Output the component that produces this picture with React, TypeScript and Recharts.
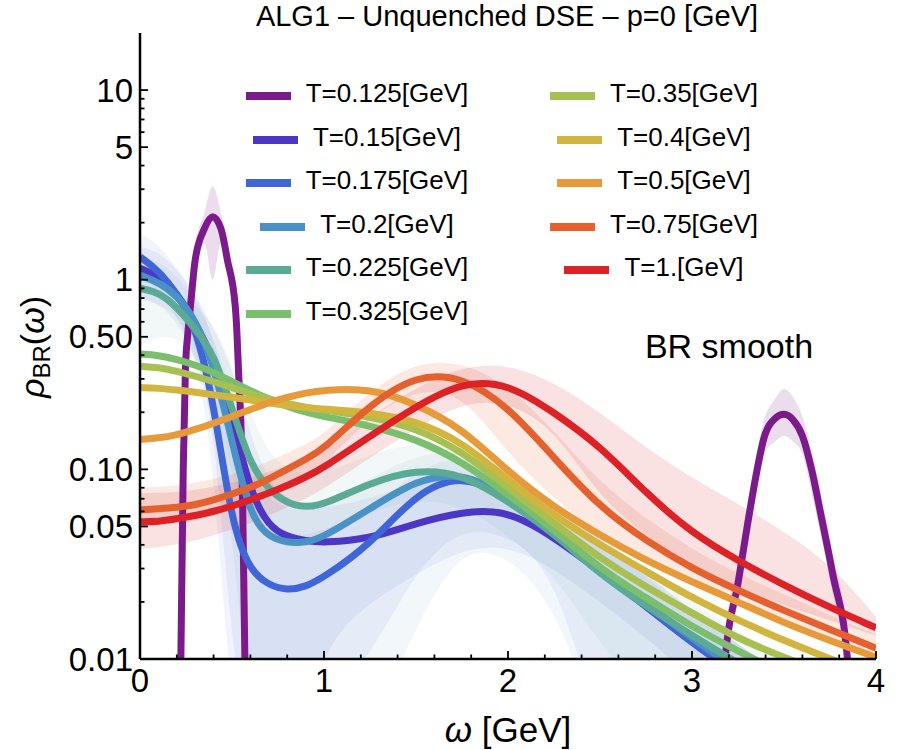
import React from 'react';
import { ComposedChart, Line, Area, XAxis, YAxis } from 'recharts';

const FONT = '"Liberation Sans", Arial, Helvetica, sans-serif';

// omega grid [GeV] shared by the smooth curves
const omega = [0, 0.1, 0.2, 0.3, 0.4, 0.5, 0.6, 0.7, 0.8, 0.9, 1, 1.25, 1.5, 1.75, 2, 2.25, 2.5, 2.75, 3, 3.25, 3.5, 3.75, 4];

// rho_BR(omega) per temperature
const rhoT150 = [1.15, 1.05, 0.85, 0.6, 0.38, 0.19, 0.075, 0.05, 0.044, 0.042, 0.041, 0.043, 0.052, 0.06, 0.061, 0.044, 0.029, 0.019, 0.0122, 0.0082, 0.0058, 0.0042, 0.003];
const rhoT175 = [1.32, 1.12, 0.85, 0.58, 0.23, 0.05, 0.029, 0.0245, 0.023, 0.024, 0.027, 0.04, 0.075, 0.095, 0.072, 0.048, 0.029, 0.019, 0.0122, 0.0082, 0.0058, 0.0042, 0.003];
const rhoT200 = [1.06, 0.97, 0.83, 0.62, 0.36, 0.14, 0.056, 0.044, 0.041, 0.041, 0.044, 0.062, 0.088, 0.097, 0.073, 0.048, 0.03, 0.0198, 0.0128, 0.0088, 0.0062, 0.0044, 0.0032];
const rhoT225 = [0.9, 0.86, 0.72, 0.55, 0.41, 0.21, 0.105, 0.078, 0.066, 0.063, 0.065, 0.085, 0.1, 0.095, 0.068, 0.046, 0.028, 0.019, 0.0133, 0.0095, 0.0068, 0.0048, 0.0034];
const rhoT325 = [0.405, 0.4, 0.38, 0.355, 0.325, 0.29, 0.26, 0.235, 0.215, 0.2, 0.19, 0.17, 0.145, 0.11, 0.074, 0.048, 0.03, 0.021, 0.0148, 0.011, 0.0083, 0.0063, 0.0049];
const rhoT350 = [0.35, 0.345, 0.33, 0.31, 0.29, 0.27, 0.25, 0.235, 0.222, 0.212, 0.205, 0.19, 0.165, 0.125, 0.08, 0.052, 0.034, 0.024, 0.0175, 0.0128, 0.0102, 0.0082, 0.0063];
const rhoT400 = [0.27, 0.268, 0.262, 0.255, 0.247, 0.24, 0.232, 0.224, 0.217, 0.212, 0.208, 0.2, 0.18, 0.14, 0.088, 0.057, 0.04, 0.029, 0.021, 0.016, 0.0125, 0.01, 0.0082];
const rhoT500 = [0.144, 0.146, 0.152, 0.162, 0.175, 0.19, 0.207, 0.225, 0.24, 0.253, 0.262, 0.268, 0.222, 0.165, 0.097, 0.063, 0.045, 0.033, 0.0255, 0.02, 0.0155, 0.0125, 0.0102];
const rhoT750 = [0.061, 0.062, 0.063, 0.065, 0.069, 0.074, 0.08, 0.089, 0.1, 0.113, 0.128, 0.22, 0.315, 0.31, 0.215, 0.115, 0.063, 0.042, 0.03, 0.023, 0.018, 0.0143, 0.0114];
const rhoT1000 = [0.053, 0.053, 0.055, 0.057, 0.06, 0.064, 0.069, 0.075, 0.082, 0.091, 0.102, 0.15, 0.215, 0.29, 0.285, 0.2, 0.133, 0.075, 0.046, 0.033, 0.0245, 0.0187, 0.0146];

// error bands (low / high)
const loT150 = [0.8, 0.75, 0.6, 0.4, 0.2, 0.01, 0.004, 0.004, 0.004, 0.004, 0.012, 0.02, 0.028, 0.038, 0.04, 0.03, 0.02, 0.013, 0.008, 0.005, 0.003, 0.002, 0.002];
const hiT150 = [1.5, 1.4, 1.15, 0.85, 0.55, 0.35, 0.15, 0.085, 0.07, 0.065, 0.062, 0.07, 0.085, 0.095, 0.09, 0.06, 0.042, 0.028, 0.018, 0.012, 0.008, 0.006, 0.004];
const loT175 = [1.0, 0.9, 0.65, 0.4, 0.12, 0.004, 0.004, 0.004, 0.004, 0.005, 0.006, 0.01, 0.03, 0.05, 0.045, 0.03, 0.004, 0.002, 0.002, 0.002, 0.002, 0.002, 0.002];
const hiT175 = [1.75, 1.55, 1.15, 0.85, 0.5, 0.2, 0.07, 0.05, 0.045, 0.045, 0.048, 0.06, 0.1, 0.12, 0.1, 0.068, 0.042, 0.027, 0.017, 0.012, 0.008, 0.006, 0.004];
const loT200 = [0.8, 0.75, 0.65, 0.45, 0.2, 0.05, 0.004, 0.004, 0.004, 0.004, 0.004, 0.004, 0.015, 0.04, 0.035, 0.02, 0.004, 0.002, 0.002, 0.002, 0.002, 0.002, 0.002];
const hiT200 = [1.35, 1.25, 1.05, 0.8, 0.5, 0.25, 0.1, 0.068, 0.062, 0.06, 0.065, 0.09, 0.12, 0.125, 0.1, 0.068, 0.045, 0.028, 0.018, 0.012, 0.008, 0.006, 0.004];
const loT225 = [0.45, 0.5, 0.5, 0.4, 0.25, 0.09, 0.05, 0.045, 0.04, 0.04, 0.045, 0.06, 0.07, 0.065, 0.045, 0.028, 0.012, 0.006, 0.004, 0.003, 0.002, 0.002, 0.002];
const hiT225 = [1.1, 1.0, 0.9, 0.72, 0.6, 0.35, 0.2, 0.12, 0.1, 0.095, 0.095, 0.12, 0.14, 0.13, 0.1, 0.066, 0.044, 0.03, 0.02, 0.014, 0.01, 0.007, 0.005];
const loT750 = [0.05, 0.051, 0.052, 0.054, 0.057, 0.061, 0.066, 0.073, 0.082, 0.093, 0.106, 0.19, 0.265, 0.255, 0.12, 0.07, 0.045, 0.034, 0.025, 0.019, 0.015, 0.012, 0.0098];
const hiT750 = [0.08, 0.081, 0.082, 0.085, 0.089, 0.094, 0.101, 0.11, 0.122, 0.136, 0.153, 0.26, 0.37, 0.37, 0.28, 0.16, 0.085, 0.055, 0.038, 0.028, 0.022, 0.017, 0.0135];
const loT1000 = [0.038, 0.039, 0.04, 0.042, 0.045, 0.048, 0.052, 0.057, 0.063, 0.07, 0.079, 0.115, 0.165, 0.225, 0.23, 0.165, 0.07, 0.045, 0.03, 0.024, 0.019, 0.016, 0.0133];
const hiT1000 = [0.075, 0.075, 0.076, 0.078, 0.081, 0.085, 0.09, 0.097, 0.105, 0.115, 0.127, 0.19, 0.27, 0.35, 0.36, 0.29, 0.2, 0.13, 0.09, 0.066, 0.047, 0.032, 0.0167];

// T=0.125 has two narrow peaks, sampled on their own grids
const purpleOmegaLow = [0.2, 0.222, 0.235, 0.247, 0.26, 0.274, 0.3, 0.35, 0.395, 0.44, 0.475, 0.518, 0.527, 0.535, 0.555, 0.57, 0.59];
const purpleRhoLow = [0.0008, 0.01, 0.1, 0.34, 0.52, 0.72, 1.27, 1.86, 2.15, 1.86, 1.27, 0.72, 0.52, 0.34, 0.1, 0.01, 0.0008];
const purpleBandLoLow = [0.0008, 0.007, 0.07, 0.26, 0.42, 0.58, 1.1, 1.55, 1.0, 1.55, 1.1, 0.58, 0.42, 0.26, 0.07, 0.007, 0.0008];
const purpleBandHiLow = [0.0008, 0.014, 0.14, 0.44, 0.64, 0.88, 1.5, 2.25, 3.1, 2.25, 1.5, 0.88, 0.64, 0.44, 0.14, 0.014, 0.0008];

const purpleOmegaHigh = [3.165, 3.18, 3.25, 3.3, 3.35, 3.39, 3.45, 3.5, 3.55, 3.6, 3.65, 3.7, 3.765, 3.845, 3.86];
const purpleRhoHigh = [0.0008, 0.01, 0.025, 0.05, 0.095, 0.145, 0.185, 0.195, 0.182, 0.15, 0.1, 0.058, 0.028, 0.01, 0.0008];
const purpleBandLoHigh = [0.0008, 0.008, 0.02, 0.04, 0.075, 0.12, 0.14, 0.15, 0.14, 0.12, 0.075, 0.045, 0.022, 0.008, 0.0008];
const purpleBandHiHigh = [0.0008, 0.013, 0.032, 0.065, 0.12, 0.18, 0.235, 0.265, 0.24, 0.19, 0.125, 0.075, 0.036, 0.013, 0.0008];

const xTicks = [0, 0.2, 0.4, 0.6, 0.8, 1, 1.2, 1.4, 1.6, 1.8, 2, 2.2, 2.4, 2.6, 2.8, 3, 3.2, 3.4, 3.6, 3.8, 4];
const yTicks = [0.01, 0.02, 0.03, 0.04, 0.05, 0.06, 0.07, 0.08, 0.09, 0.1, 0.2, 0.3, 0.4, 0.5, 0.6, 0.7, 0.8, 0.9, 1, 2, 3, 4, 5, 6, 7, 8, 9, 10];
const yLabelValues = [0.01, 0.05, 0.1, 0.5, 1, 5, 10];
const yLabelTexts = ['0.01', '0.05', '0.10', '0.50', '1', '5', '10'];

const legendCol1 = ['T=0.125[GeV]', 'T=0.15[GeV]', 'T=0.175[GeV]', 'T=0.2[GeV]', 'T=0.225[GeV]', 'T=0.325[GeV]'];
const legendCol2 = ['T=0.35[GeV]', 'T=0.4[GeV]', 'T=0.5[GeV]', 'T=0.75[GeV]', 'T=1.[GeV]'];

const colors = {
  t125: '#7B1A8B',
  t150: '#4B36C6',
  t175: '#3F65D6',
  t200: '#4A92C5',
  t225: '#5BAA96',
  t325: '#7BBE6E',
  t350: '#A8C052',
  t400: '#D2B53F',
  t500: '#E79A3A',
  t750: '#E4612F',
  t1000: '#DC2226',
};
const col1Colors = [colors.t125, colors.t150, colors.t175, colors.t200, colors.t225, colors.t325];
const col2Colors = [colors.t350, colors.t400, colors.t500, colors.t750, colors.t1000];

const mainData = omega.map((w, i) => ({
  w,
  t150: rhoT150[i],
  t175: rhoT175[i],
  t200: rhoT200[i],
  t225: rhoT225[i],
  t325: rhoT325[i],
  t350: rhoT350[i],
  t400: rhoT400[i],
  t500: rhoT500[i],
  t750: rhoT750[i],
  t1000: rhoT1000[i],
  b150: [loT150[i], hiT150[i]],
  b175: [loT175[i], hiT175[i]],
  b200: [loT200[i], hiT200[i]],
  b225: [loT225[i], hiT225[i]],
  b750: [loT750[i], hiT750[i]],
  b1000: [loT1000[i], hiT1000[i]],
}));

const purpleLow = purpleOmegaLow.map((w, i) => ({ w, rho: purpleRhoLow[i], band: [purpleBandLoLow[i], purpleBandHiLow[i]] }));
const purpleHigh = purpleOmegaHigh.map((w, i) => ({ w, rho: purpleRhoHigh[i], band: [purpleBandLoHigh[i], purpleBandHiHigh[i]] }));

function XTick(props: any) {
  const { x, y, payload } = props;
  const v = payload.value;
  const major = Math.abs(v - Math.round(v)) < 1e-6;
  return (
    <g>
      <line x1={x} x2={x} y1={y} y2={y - (major ? 8 : 4.5)} stroke="#000" strokeWidth={1.8} />
      {major && (
        <text x={x} y={y + 33} textAnchor="middle" fontSize={33} fontFamily={FONT} fill="#000">
          {String(Math.round(v))}
        </text>
      )}
    </g>
  );
}

function YTick(props: any) {
  const { x, y, payload } = props;
  const v = payload.value;
  const idx = yLabelValues.findIndex((l) => Math.abs(l - v) / l < 1e-6);
  const major = idx >= 0;
  return (
    <g>
      <line x1={x} x2={x + (major ? 8 : 4.5)} y1={y} y2={y} stroke="#000" strokeWidth={1.8} />
      {major && (
        <text x={x - 7} y={y + 11.5} textAnchor="end" fontSize={33} fontFamily={FONT} fill="#000">
          {yLabelTexts[idx]}
        </text>
      )}
    </g>
  );
}

function LegendColumn({ labels, cols, cx }: { labels: string[]; cols: string[]; cx: number }) {
  return (
    <div style={{ position: 'absolute', left: cx - 160, top: 96 - 21.8, width: 320 }}>
      {labels.map((label, i) => (
        <div key={label} style={{ display: 'flex', alignItems: 'center', justifyContent: 'center', height: 43.6 }}>
          <span style={{ display: 'inline-block', width: 45, height: 8, background: cols[i], marginRight: 15 }} />
          <span style={{ fontSize: 26, lineHeight: 1, position: 'relative', top: -3, whiteSpace: 'nowrap' }}>{label}</span>
        </div>
      ))}
    </div>
  );
}

// smooth curves on the shared grid
const lineProps = {
  type: 'basis' as const,
  dot: false,
  activeDot: false,
  strokeWidth: 7,
  strokeLinejoin: 'round' as const,
  isAnimationActive: false,
};

const bandProps = {
  type: 'basis' as const,
  stroke: 'none',
  dot: false,
  activeDot: false,
  isAnimationActive: false,
};

export default function App() {
  return (
    <div style={{ position: 'absolute', left: 0, top: 0, width: 900, height: 750, background: '#fff', fontFamily: FONT, color: '#000' }}>
      <ComposedChart width={900} height={750} data={mainData} margin={{ top: 33, right: 24, bottom: 0, left: 0 }}>
        <XAxis
          dataKey="w"
          type="number"
          domain={[0, 4]}
          ticks={xTicks}
          interval={0}
          allowDataOverflow
          height={91}
          tickSize={0}
          tickMargin={0}
          tickLine={false}
          axisLine={{ stroke: '#000', strokeWidth: 2.5 }}
          tick={(p: any) => <XTick {...p} />}
        />
        <YAxis
          type="number"
          scale="log"
          domain={[0.01, 20]}
          ticks={yTicks}
          interval={0}
          allowDataOverflow
          width={140}
          tickSize={0}
          tickMargin={0}
          tickLine={false}
          axisLine={{ stroke: '#000', strokeWidth: 2.5 }}
          tick={(p: any) => <YTick {...p} />}
        />

        <Area {...bandProps} type="monotone" data={purpleLow} dataKey="band" fill={colors.t125} fillOpacity={0.15} />
        <Area {...bandProps} type="monotone" data={purpleHigh} dataKey="band" fill={colors.t125} fillOpacity={0.15} />
        <Area {...bandProps} dataKey="b150" fill={colors.t150} fillOpacity={0.07} />
        <Area {...bandProps} dataKey="b175" fill={colors.t175} fillOpacity={0.07} />
        <Area {...bandProps} dataKey="b200" fill={colors.t200} fillOpacity={0.07} />
        <Area {...bandProps} dataKey="b225" fill={colors.t225} fillOpacity={0.08} />
        <Area {...bandProps} dataKey="b750" fill={colors.t750} fillOpacity={0.14} />
        <Area {...bandProps} dataKey="b1000" fill={colors.t1000} fillOpacity={0.13} />

        <Line {...lineProps} type="monotone" data={purpleLow} dataKey="rho" stroke={colors.t125} />
        <Line {...lineProps} type="monotone" data={purpleHigh} dataKey="rho" stroke={colors.t125} />
        <Line {...lineProps} dataKey="t150" stroke={colors.t150} />
        <Line {...lineProps} dataKey="t175" stroke={colors.t175} />
        <Line {...lineProps} dataKey="t200" stroke={colors.t200} />
        <Line {...lineProps} dataKey="t225" stroke={colors.t225} />
        <Line {...lineProps} dataKey="t325" stroke={colors.t325} />
        <Line {...lineProps} dataKey="t350" stroke={colors.t350} />
        <Line {...lineProps} dataKey="t400" stroke={colors.t400} />
        <Line {...lineProps} dataKey="t500" stroke={colors.t500} />
        <Line {...lineProps} dataKey="t750" stroke={colors.t750} />
        <Line {...lineProps} dataKey="t1000" stroke={colors.t1000} />
      </ComposedChart>

      <svg width={900} height={750} style={{ position: 'absolute', left: 0, top: 0, pointerEvents: 'none' }}>
        <text x={507} y={26} textAnchor="middle" fontSize={29} fontFamily={FONT} fill="#000">
          ALG1 – Unquenched DSE – p=0 [GeV]
        </text>
        <text x={729} y={358} textAnchor="middle" fontSize={34} fontFamily={FONT} fill="#000">
          BR smooth
        </text>
        <text x={508} y={742} textAnchor="middle" fontSize={35} fontFamily={FONT} fill="#000">
          <tspan fontStyle="italic">ω</tspan> [GeV]
        </text>
        <text transform="translate(44,347) rotate(-90)" textAnchor="middle" fontSize={34} fontFamily={FONT} fill="#000">
          <tspan fontStyle="italic">ρ</tspan>
          <tspan fontSize={24} dy={6}>BR</tspan>
          <tspan dy={-6}>(</tspan>
          <tspan fontStyle="italic">ω</tspan>
          <tspan>)</tspan>
        </text>
      </svg>

      <LegendColumn labels={legendCol1} cols={col1Colors} cx={357} />
      <LegendColumn labels={legendCol2} cols={col2Colors} cx={654} />
    </div>
  );
}
